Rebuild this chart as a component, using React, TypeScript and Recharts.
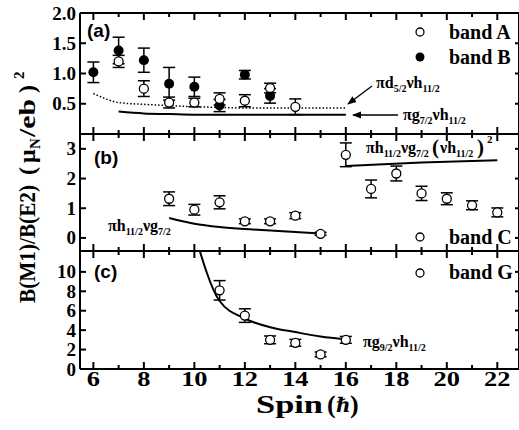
import React from 'react';
import { ComposedChart, Scatter, Line, XAxis, YAxis, ErrorBar } from 'recharts';

// spin axis shared by all three panels
const spinTicks = [6, 7, 8, 9, 10, 11, 12, 13, 14, 15, 16, 17, 18, 19, 20, 21, 22];
const spinDomain = [5.47, 22.86];

// panel (a)
const bandASpin = [7, 8, 9, 10, 11, 12, 13, 14];
const bandAVal = [1.2, 0.75, 0.52, 0.52, 0.58, 0.55, 0.76, 0.45];
const bandAErr = [0.1, 0.13, 0.09, 0.07, 0.1, 0.1, 0.08, 0.13];
const bandBSpin = [6, 7, 8, 9, 10, 11, 12, 13];
const bandBVal = [1.02, 1.38, 1.22, 0.83, 0.78, 0.47, 0.98, 0.63];
const bandBErr = [0.17, 0.22, 0.2, 0.27, 0.16, 0.1, 0.07, 0.12];
const d52Spin = [6, 7, 8, 9, 10, 11, 12, 13, 14, 15, 16];
const d52Val = [0.67, 0.52, 0.49, 0.47, 0.45, 0.44, 0.43, 0.43, 0.43, 0.43, 0.43];
const g72Spin = [7, 8, 9, 10, 11, 12, 13, 14, 15, 16];
const g72Val = [0.37, 0.34, 0.33, 0.32, 0.32, 0.32, 0.32, 0.32, 0.32, 0.32];

// panel (b)
const bandCSpin = [9, 10, 11, 12, 13, 14, 15, 16, 17, 18, 19, 20, 21, 22];
const bandCVal = [1.32, 0.95, 1.2, 0.56, 0.56, 0.75, 0.14, 2.8, 1.65, 2.17, 1.5, 1.32, 1.1, 0.86];
const bandCErr = [0.23, 0.18, 0.22, 0.08, 0.08, 0.1, 0.05, 0.4, 0.3, 0.25, 0.24, 0.2, 0.15, 0.15];
const h11g7Spin = [9, 10, 11, 12, 13, 14, 15];
const h11g7Val = [0.67, 0.48, 0.37, 0.3, 0.25, 0.2, 0.15];
const h11g7h2Spin = [16, 19, 22];
const h11g7h2Val = [2.42, 2.54, 2.62];

// panel (c)
const bandGSpin = [11, 12, 13, 14, 15, 16];
const bandGVal = [8.1, 5.5, 3.0, 2.7, 1.5, 3.0];
const bandGErr = [1.0, 0.7, 0.4, 0.35, 0.25, 0.35];
const g92Spin = [10, 11, 12, 13, 14, 15, 16];
const g92Val = [14, 7.0, 5.2, 4.3, 3.8, 3.35, 3.05];

const pts = (s: number[], v: number[], e?: number[]) =>
  s.map((x, i) => ({ x, y: v[i], e: e ? e[i] : 0 }));

const SERIF = '"Liberation Serif", "Times New Roman", serif';
const SANS = '"Liberation Sans", Arial, sans-serif';
const W = 519;

const openDot = (p: any) => (
  <circle cx={p.cx} cy={p.cy} r={4.5} fill="#fff" stroke="#000" strokeWidth={1.3} />
);
const fillDot = (p: any) => <circle cx={p.cx} cy={p.cy} r={5} fill="#000" />;

const xTick = (dir: number, labels: boolean) => (props: any) => {
  const { x, y, payload } = props;
  const major = payload.value % 2 === 0;
  const len = major ? 7 : 4;
  return (
    <g>
      <line x1={x} y1={y} x2={x} y2={y + dir * len} stroke="#000" strokeWidth={2} />
      {labels && major && (
        <text transform={`translate(${x},${y + 17}) scale(1.2,1)`} textAnchor="middle"
          fontFamily={SERIF} fontWeight="bold" fontSize={22}>
          {payload.value}
        </text>
      )}
    </g>
  );
};

const yTickLeft = (digits: number) => (props: any) => {
  const { x, y, payload } = props;
  return (
    <g>
      <line x1={x} y1={y} x2={x + 6} y2={y} stroke="#000" strokeWidth={2} />
      <text x={x - 4} y={y + 6.5} textAnchor="end" fontFamily={SERIF} fontWeight="bold" fontSize={19}>
        {payload.value.toFixed(digits)}
      </text>
    </g>
  );
};

const yTickRight = (props: any) => {
  const { x, y } = props;
  return <line x1={x - 4} y1={y} x2={x} y2={y} stroke="#000" strokeWidth={2} />;
};

const axisLine = { stroke: '#000', strokeWidth: 2 };

const Panel = ({ top, height, margin, yDomain, yTicks, digits, bottomLabels, children }: any) => (
  <div style={{ position: 'absolute', left: 0, top }}>
    <ComposedChart width={W + 1} height={height} margin={margin}>
      <XAxis xAxisId={0} type="number" dataKey="x" domain={spinDomain} allowDataOverflow ticks={spinTicks}
        interval={0} height={1} tickSize={0} tickMargin={0} tickLine={false} axisLine={axisLine}
        tick={xTick(-1, bottomLabels)} />
      <XAxis xAxisId="t" orientation="top" type="number" dataKey="x" domain={spinDomain} allowDataOverflow
        ticks={spinTicks} interval={0} height={1} tickSize={0} tickMargin={0} tickLine={false}
        axisLine={axisLine} tick={xTick(1, false)} />
      <YAxis yAxisId={0} type="number" domain={yDomain} allowDataOverflow ticks={yTicks} interval={0}
        width={80} tickSize={0} tickMargin={0} tickLine={false} axisLine={axisLine} tick={yTickLeft(digits)} />
      <YAxis yAxisId="r" orientation="right" type="number" domain={yDomain} allowDataOverflow ticks={yTicks}
        interval={0} width={1} tickSize={0} tickMargin={0} tickLine={false} axisLine={axisLine} tick={yTickRight} />
      {children}
    </ComposedChart>
  </div>
);

// formula text: parts of [main, subscript]
const Formula = ({ x, y, parts, size = 16, sub = 10 }: any) => {
  const out: any[] = [];
  let down = false;
  parts.forEach(([m, s]: [string, string?], i: number) => {
    out.push(<tspan key={'m' + i} dy={down ? -4 : 0}>{m}</tspan>);
    down = false;
    if (s) {
      out.push(<tspan key={'s' + i} fontSize={sub} dy={4}>{s}</tspan>);
      down = true;
    }
  });
  return (
    <text x={x} y={y} fontFamily={SERIF} fontWeight="bold" fontSize={size}>
      {out}
    </text>
  );
};

// rotated piece of the y title; sy = screen y where the piece starts (reads upward)
const YPiece = ({ sy, sx = 35, size = 24, len, children }: any) => (
  <text transform="rotate(-90)" x={-sy} y={sx} fontFamily={SERIF} fontWeight="bold" fontSize={size}
    textLength={len} lengthAdjust={len ? 'spacingAndGlyphs' : undefined}>
    {children}
  </text>
);

export default function App() {
  const txt = { fontFamily: SERIF, fontWeight: 'bold' as const };
  const bar = { dataKey: 'e', direction: 'y' as const, width: 6, stroke: '#000', strokeWidth: 1.5 };
  return (
    <div style={{ position: 'absolute', left: 0, top: 0, width: W, height: 430, background: '#fff', overflow: 'hidden' }}>
      {/* (a) */}
      <Panel top={0} height={150} margin={{ top: 12, right: 0, bottom: 15, left: 0 }}
        yDomain={[0, 2]} yTicks={[0.5, 1.0, 1.5, 2.0]} digits={1} bottomLabels={false}>
        <Line data={pts(d52Spin, d52Val)} dataKey="y" type="monotone" stroke="#000" strokeWidth={1.5}
          strokeDasharray="1.5 2" dot={false} isAnimationActive={false} />
        <Line data={pts(g72Spin, g72Val)} dataKey="y" type="monotone" stroke="#000" strokeWidth={2}
          dot={false} isAnimationActive={false} />
        <Scatter data={pts(bandBSpin, bandBVal, bandBErr)} dataKey="y" shape={fillDot} isAnimationActive={false}>
          <ErrorBar {...bar} />
        </Scatter>
        <Scatter data={pts(bandASpin, bandAVal, bandAErr)} dataKey="y" shape={openDot} isAnimationActive={false}>
          <ErrorBar {...bar} />
        </Scatter>
      </Panel>
      {/* (b) */}
      <Panel top={120} height={150} margin={{ top: 13, right: 0, bottom: 18, left: 0 }}
        yDomain={[-0.44, 3.5]} yTicks={[0, 1, 2, 3]} digits={0} bottomLabels={false}>
        <Line data={pts(h11g7Spin, h11g7Val)} dataKey="y" type="monotone" stroke="#000" strokeWidth={2}
          dot={false} isAnimationActive={false} />
        <Line data={pts(h11g7h2Spin, h11g7h2Val)} dataKey="y" type="linear" stroke="#000" strokeWidth={2}
          dot={false} isAnimationActive={false} />
        <Scatter data={pts(bandCSpin, bandCVal, bandCErr)} dataKey="y" shape={openDot} isAnimationActive={false}>
          <ErrorBar {...bar} />
        </Scatter>
      </Panel>
      {/* (c) */}
      <Panel top={240} height={190} margin={{ top: 10, right: 0, bottom: 60, left: 0 }}
        yDomain={[0, 12.15]} yTicks={[0, 2, 4, 6, 8, 10]} digits={0} bottomLabels={true}>
        <Line data={pts(g92Spin, g92Val)} dataKey="y" type="monotone" stroke="#000" strokeWidth={2}
          dot={false} isAnimationActive={false} />
        <Scatter data={pts(bandGSpin, bandGVal, bandGErr)} dataKey="y" shape={openDot} isAnimationActive={false}>
          <ErrorBar {...bar} />
        </Scatter>
      </Panel>

      <svg width={W} height={430} style={{ position: 'absolute', left: 0, top: 0, pointerEvents: 'none' }}>
        <defs>
          <marker id="ah" viewBox="0 0 10 10" refX="9" refY="5" markerWidth="7" markerHeight="7" orient="auto">
            <path d="M0,1 L10,5 L0,9 z" fill="#000" />
          </marker>
        </defs>
        {/* panel labels */}
        <text x={87} y={37} fontFamily={SANS} fontWeight="bold" fontSize={19}>(a)</text>
        <text x={94} y={164} fontFamily={SANS} fontWeight="bold" fontSize={19}>(b)</text>
        <text x={94} y={278} fontFamily={SANS} fontWeight="bold" fontSize={19}>(c)</text>

        {/* legends */}
        <circle cx={420} cy={32} r={4} fill="#fff" stroke="#000" strokeWidth={1.3} />
        <text x={449} y={39} {...txt} fontSize={20}>band A</text>
        <circle cx={420} cy={57} r={4.5} fill="#000" />
        <text x={449} y={64} {...txt} fontSize={20}>band B</text>
        <circle cx={420} cy={237} r={4} fill="#fff" stroke="#000" strokeWidth={1.3} />
        <text x={449} y={244} {...txt} fontSize={20}>band C</text>
        <circle cx={420} cy={273} r={4} fill="#fff" stroke="#000" strokeWidth={1.3} />
        <text x={449} y={279} {...txt} fontSize={20}>band G</text>

        {/* annotations */}
        <Formula x={376} y={88} parts={[['πd', '5/2'], ['νh', '11/2']]} />
        <line x1={372} y1={86} x2={348} y2={104} stroke="#000" strokeWidth={1.3} markerEnd="url(#ah)" />
        <Formula x={403} y={120} parts={[['πg', '7/2'], ['νh', '11/2']]} />
        <line x1={398} y1={115} x2={353} y2={115} stroke="#000" strokeWidth={1.3} markerEnd="url(#ah)" />
        <Formula x={366} y={153} parts={[['πh', '11/2'], ['νg', '7/2']]} />
        <text x={432} y={154} {...txt} fontSize={21}>(</text>
        <Formula x={440} y={153} parts={[['νh', '11/2']]} />
        <text x={477} y={154} {...txt} fontSize={21}>)</text>
        <text x={487} y={143} {...txt} fontSize={11}>2</text>
        <Formula x={108} y={231} parts={[['πh', '11/2'], ['νg', '7/2']]} />
        <Formula x={363} y={347} parts={[['πg', '9/2'], ['νh', '11/2']]} />

        {/* x title */}
        <text x={256} y={413} {...txt} fontSize={26} textLength={67} lengthAdjust="spacingAndGlyphs">Spin</text>
        <text x={327} y={413} {...txt} fontSize={26}>(</text>
        <text x={336} y={412} fontFamily='"DejaVu Serif", serif' fontStyle="italic" fontWeight="bold" fontSize={20}>ℏ</text>
        <text x={350} y={413} {...txt} fontSize={26}>)</text>

        {/* y title */}
        <YPiece sy={303} len={118}>B(M1)/B(E2)</YPiece>
        <YPiece sy={175}>(</YPiece>
        <YPiece sy={163}>μ</YPiece>
        <YPiece sy={149} sx={40} size={15}>N</YPiece>
        <YPiece sy={137} len={38}>/eb</YPiece>
        <YPiece sy={93}>)</YPiece>
        <YPiece sy={79} sx={24} size={15}>2</YPiece>
      </svg>
    </div>
  );
}
